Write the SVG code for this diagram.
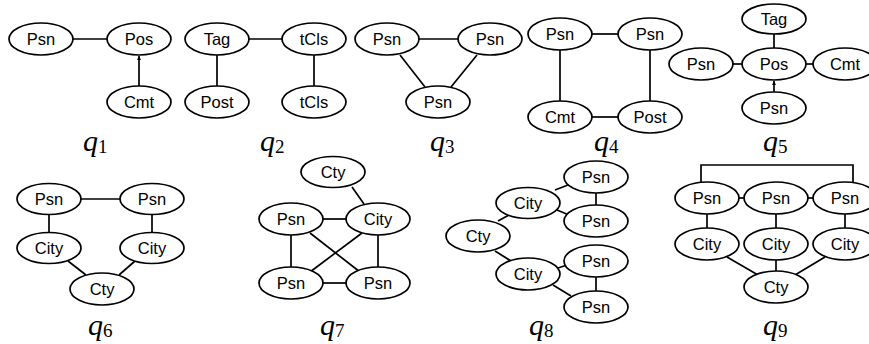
<svg xmlns="http://www.w3.org/2000/svg" width="869" height="344" viewBox="0 0 869 344">
<defs>
<style>
ellipse{fill:#fff;stroke:#000;stroke-width:1.7}
.n text{font-family:"Liberation Sans",Arial,sans-serif;font-size:16.5px;text-anchor:middle;fill:#000}
#edges line,#edges polyline{stroke:#000;stroke-width:1.7;fill:none}
.q{font-family:"Liberation Serif","Times New Roman",serif;font-size:30px;font-style:italic;fill:#000}
.q tspan{font-style:normal;font-size:19px}
</style>
<marker id="ah" viewBox="0 0 6 6" refX="6" refY="3" markerWidth="4" markerHeight="4" orient="auto" markerUnits="userSpaceOnUse">
<path d="M0,0 L6,3 L0,6 z" fill="#000"/>
</marker>
</defs>
<rect width="869" height="344" fill="#fff"/>
<g id="edges">
<!-- q1 -->
<line x1="73" y1="39" x2="107" y2="39"/>
<line x1="139" y1="86" x2="139" y2="56" marker-end="url(#ah)"/>
<!-- q2 -->
<line x1="249" y1="39" x2="282" y2="39"/>
<line x1="217" y1="55" x2="217" y2="86"/>
<line x1="314" y1="55" x2="314" y2="86"/>
<!-- q3 -->
<line x1="419" y1="39" x2="458" y2="39"/>
<line x1="400" y1="55" x2="425" y2="87"/>
<line x1="477" y1="55" x2="451" y2="87"/>
<!-- q4 -->
<line x1="592" y1="34" x2="618" y2="34"/>
<line x1="560" y1="50" x2="560" y2="101"/>
<line x1="650" y1="50" x2="650" y2="101"/>
<line x1="592" y1="117" x2="618" y2="117"/>
<!-- q5 -->
<line x1="774" y1="34" x2="774" y2="48"/>
<line x1="733" y1="64" x2="743" y2="64"/>
<line x1="806" y1="64" x2="813" y2="64"/>
<line x1="774" y1="92" x2="774" y2="81" marker-end="url(#ah)"/>
<!-- q6 -->
<line x1="81" y1="199" x2="121" y2="199"/>
<line x1="49" y1="214" x2="49" y2="233"/>
<line x1="152" y1="214" x2="152" y2="233"/>
<line x1="68" y1="261" x2="86" y2="275"/>
<line x1="135" y1="261" x2="119" y2="275"/>
<!-- q7 -->
<line x1="352" y1="187" x2="364" y2="204"/>
<line x1="323" y1="219" x2="346" y2="219"/>
<line x1="291" y1="235" x2="291" y2="267"/>
<line x1="378" y1="235" x2="378" y2="267"/>
<line x1="323" y1="283" x2="346" y2="283"/>
<line x1="310" y1="233" x2="360" y2="272"/>
<line x1="362" y1="233" x2="310" y2="272"/>
<!-- q8 -->
<line x1="498" y1="221" x2="509" y2="215"/>
<line x1="495" y1="251" x2="511" y2="261"/>
<line x1="555" y1="190" x2="568" y2="185"/>
<line x1="557" y1="210" x2="569" y2="215"/>
<line x1="596" y1="193" x2="596" y2="205"/>
<line x1="558" y1="268" x2="567" y2="265"/>
<line x1="553" y1="285" x2="571" y2="296"/>
<line x1="596" y1="277" x2="596" y2="291"/>
<!-- q9 -->
<polyline points="701,182 701,165 853,165 853,182"/>
<line x1="738" y1="198" x2="744" y2="198"/>
<line x1="808" y1="198" x2="813" y2="198"/>
<line x1="707" y1="214" x2="707" y2="228"/>
<line x1="776" y1="214" x2="776" y2="228"/>
<line x1="845" y1="214" x2="845" y2="228"/>
<line x1="727" y1="257" x2="758" y2="275"/>
<line x1="776" y1="260" x2="776" y2="271"/>
<line x1="825" y1="257" x2="795" y2="275"/>
</g>
<!-- q1 nodes -->
<g id="q1-psn" class="n"><ellipse cx="41" cy="39" rx="32" ry="16"/><text x="41" y="45">Psn</text></g>
<g id="q1-pos" class="n"><ellipse cx="139" cy="39" rx="32" ry="16"/><text x="139" y="45">Pos</text></g>
<g id="q1-cmt" class="n"><ellipse cx="139" cy="102" rx="32" ry="16"/><text x="139" y="108">Cmt</text></g>
<!-- q2 -->
<g id="q2-tag" class="n"><ellipse cx="217" cy="39" rx="32" ry="16"/><text x="217" y="45">Tag</text></g>
<g id="q2-tcls1" class="n"><ellipse cx="314" cy="39" rx="32" ry="16"/><text x="314" y="45">tCls</text></g>
<g id="q2-post" class="n"><ellipse cx="217" cy="102" rx="32" ry="16"/><text x="217" y="108">Post</text></g>
<g id="q2-tcls2" class="n"><ellipse cx="314" cy="102" rx="32" ry="16"/><text x="314" y="108">tCls</text></g>
<!-- q3 -->
<g id="q3-psn1" class="n"><ellipse cx="387" cy="39" rx="32" ry="16"/><text x="387" y="45">Psn</text></g>
<g id="q3-psn2" class="n"><ellipse cx="490" cy="39" rx="32" ry="16"/><text x="490" y="45">Psn</text></g>
<g id="q3-psn3" class="n"><ellipse cx="438" cy="102" rx="32" ry="16"/><text x="438" y="108">Psn</text></g>
<!-- q4 -->
<g id="q4-psn1" class="n"><ellipse cx="560" cy="34" rx="32" ry="16"/><text x="560" y="40">Psn</text></g>
<g id="q4-psn2" class="n"><ellipse cx="650" cy="34" rx="32" ry="16"/><text x="650" y="40">Psn</text></g>
<g id="q4-cmt" class="n"><ellipse cx="560" cy="117" rx="32" ry="16"/><text x="560" y="123">Cmt</text></g>
<g id="q4-post" class="n"><ellipse cx="650" cy="117" rx="32" ry="16"/><text x="650" y="123">Post</text></g>
<!-- q5 -->
<g id="q5-tag" class="n"><ellipse cx="774" cy="19" rx="32" ry="15"/><text x="774" y="25">Tag</text></g>
<g id="q5-psn1" class="n"><ellipse cx="701" cy="64" rx="32" ry="16"/><text x="701" y="70">Psn</text></g>
<g id="q5-pos" class="n"><ellipse cx="774" cy="64" rx="32" ry="16"/><text x="774" y="70">Pos</text></g>
<g id="q5-cmt" class="n"><ellipse cx="845" cy="64" rx="32" ry="16"/><text x="845" y="70">Cmt</text></g>
<g id="q5-psn2" class="n"><ellipse cx="774" cy="108" rx="32" ry="16"/><text x="774" y="114">Psn</text></g>
<!-- q6 -->
<g id="q6-psn1" class="n"><ellipse cx="49" cy="199" rx="32" ry="15.5"/><text x="49" y="205">Psn</text></g>
<g id="q6-psn2" class="n"><ellipse cx="152" cy="199" rx="32" ry="15.5"/><text x="152" y="205">Psn</text></g>
<g id="q6-city1" class="n"><ellipse cx="49" cy="248" rx="32" ry="15.5"/><text x="49" y="254">City</text></g>
<g id="q6-city2" class="n"><ellipse cx="152" cy="248" rx="32" ry="15.5"/><text x="152" y="254">City</text></g>
<g id="q6-cty" class="n"><ellipse cx="102" cy="289" rx="32" ry="16"/><text x="102" y="295">Cty</text></g>
<!-- q7 -->
<g id="q7-cty" class="n"><ellipse cx="333" cy="172" rx="32" ry="15.5"/><text x="333" y="178">Cty</text></g>
<g id="q7-psn1" class="n"><ellipse cx="291" cy="219" rx="32" ry="16"/><text x="291" y="225">Psn</text></g>
<g id="q7-city" class="n"><ellipse cx="378" cy="219" rx="32" ry="16"/><text x="378" y="225">City</text></g>
<g id="q7-psn2" class="n"><ellipse cx="291" cy="283" rx="32" ry="16"/><text x="291" y="289">Psn</text></g>
<g id="q7-psn3" class="n"><ellipse cx="378" cy="283" rx="32" ry="16"/><text x="378" y="289">Psn</text></g>
<!-- q8 -->
<g id="q8-cty" class="n"><ellipse cx="478" cy="236" rx="32" ry="16"/><text x="478" y="242">Cty</text></g>
<g id="q8-city1" class="n"><ellipse cx="528" cy="203" rx="32" ry="15.5"/><text x="528" y="209">City</text></g>
<g id="q8-city2" class="n"><ellipse cx="528" cy="274" rx="32" ry="16"/><text x="528" y="280">City</text></g>
<g id="q8-psn1" class="n"><ellipse cx="596" cy="177" rx="32" ry="16"/><text x="596" y="183">Psn</text></g>
<g id="q8-psn2" class="n"><ellipse cx="596" cy="221" rx="32" ry="16"/><text x="596" y="227">Psn</text></g>
<g id="q8-psn3" class="n"><ellipse cx="596" cy="261" rx="32" ry="16"/><text x="596" y="267">Psn</text></g>
<g id="q8-psn4" class="n"><ellipse cx="596" cy="307" rx="32" ry="16"/><text x="596" y="313">Psn</text></g>
<!-- q9 -->
<g id="q9-psn1" class="n"><ellipse cx="707" cy="198" rx="32" ry="16"/><text x="707" y="204">Psn</text></g>
<g id="q9-psn2" class="n"><ellipse cx="776" cy="198" rx="32" ry="16"/><text x="776" y="204">Psn</text></g>
<g id="q9-psn3" class="n"><ellipse cx="845" cy="198" rx="32" ry="16"/><text x="845" y="204">Psn</text></g>
<g id="q9-city1" class="n"><ellipse cx="707" cy="244" rx="32" ry="16"/><text x="707" y="250">City</text></g>
<g id="q9-city2" class="n"><ellipse cx="776" cy="244" rx="32" ry="16"/><text x="776" y="250">City</text></g>
<g id="q9-city3" class="n"><ellipse cx="845" cy="244" rx="32" ry="16"/><text x="845" y="250">City</text></g>
<g id="q9-cty" class="n"><ellipse cx="776" cy="287" rx="32" ry="16"/><text x="776" y="293">Cty</text></g>
<!-- labels -->
<g id="labels">
<text class="q" x="83" y="151">q<tspan dy="2">1</tspan></text>
<text class="q" x="260" y="151">q<tspan dy="2">2</tspan></text>
<text class="q" x="430" y="151">q<tspan dy="2">3</tspan></text>
<text class="q" x="594" y="151">q<tspan dy="2">4</tspan></text>
<text class="q" x="763" y="151">q<tspan dy="2">5</tspan></text>
<text class="q" x="88" y="335">q<tspan dy="2">6</tspan></text>
<text class="q" x="320" y="335">q<tspan dy="2">7</tspan></text>
<text class="q" x="529" y="335">q<tspan dy="2">8</tspan></text>
<text class="q" x="763" y="335">q<tspan dy="2">9</tspan></text>
</g>
</svg>
